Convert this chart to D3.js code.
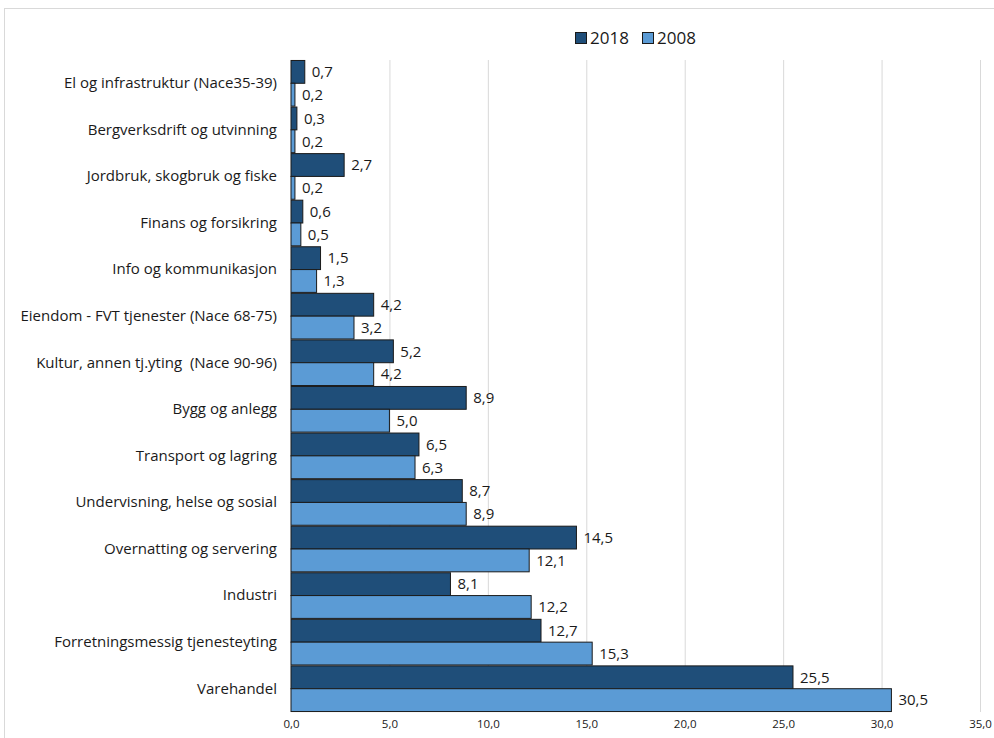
<!DOCTYPE html>
<html>
<head>
<meta charset="utf-8">
<script src="https://cdn.jsdelivr.net/npm/d3@7"></script>
<style>
  html, body { margin: 0; padding: 0; background: #fff; }
  svg { display: block; }
  text { font-family: "Open Sans", sans-serif; fill: #1a1a1a; white-space: pre; }
</style>
</head>
<body>
<svg id="chart" width="994" height="738"></svg>
<script>
// Sysselsatte etter næring, andel (%) 2018 og 2008
const categories = [
  "El og infrastruktur (Nace35-39)",
  "Bergverksdrift og utvinning",
  "Jordbruk, skogbruk og fiske",
  "Finans og forsikring",
  "Info og kommunikasjon",
  "Eiendom - FVT tjenester (Nace 68-75)",
  "Kultur, annen tj.yting  (Nace 90-96)",
  "Bygg og anlegg",
  "Transport og lagring",
  "Undervisning, helse og sosial",
  "Overnatting og servering",
  "Industri",
  "Forretningsmessig tjenesteyting",
  "Varehandel"
];
const series = ["2018", "2008"];
const values2018 = [0.7, 0.3, 2.7, 0.6, 1.5, 4.2, 5.2, 8.9, 6.5, 8.7, 14.5, 8.1, 12.7, 25.5];
const values2008 = [0.2, 0.2, 0.2, 0.5, 1.3, 3.2, 4.2, 5.0, 6.3, 8.9, 12.1, 12.2, 15.3, 30.5];
const xTicks = [0, 5, 10, 15, 20, 25, 30, 35];
const colors = { "2018": "#1f4e79", "2008": "#5b9bd5" };

const svg = d3.select("#chart");
const fmt = v => d3.format(".1f")(v).replace(".", ",");

// frame
svg.append("rect")
  .attr("x", 4.5).attr("y", 8.5).attr("width", 1000).attr("height", 740)
  .attr("fill", "none").attr("stroke", "#d9d9d9");

const x = d3.scaleLinear().domain([0, 35]).range([291, 980]);
const y = d3.scaleBand().domain(categories).range([60, 712]).paddingInner(0.02).paddingOuter(0.01);
const ySub = d3.scaleBand().domain(series).range([0, y.bandwidth()]);

// gridlines
svg.append("g").selectAll("line").data(xTicks).join("line")
  .attr("x1", d => x(d) + 0.5).attr("x2", d => x(d) + 0.5)
  .attr("y1", 60).attr("y2", 712)
  .attr("stroke", "#d9d9d9").attr("stroke-width", 1);

// axis tick labels
const xAxis = d3.axisBottom(x).tickValues(xTicks).tickFormat(fmt).tickSize(0).tickPadding(8);
const gx = svg.append("g").attr("transform", "translate(0,712)").call(xAxis);
gx.select(".domain").remove();
gx.selectAll("text").style("font-family", "'Open Sans', sans-serif").style("font-size", "11.5px")
  .attr("fill", "#333");

// category labels
const yAxis = d3.axisLeft(y).tickSize(0).tickPadding(14);
const gy = svg.append("g").attr("transform", `translate(${291},0)`).call(yAxis);
gy.select(".domain").remove();
gy.selectAll("text").style("font-family", "'Open Sans', sans-serif").style("font-size", "15px")
  .style("white-space", "pre").attr("fill", "#1a1a1a");

// bars
const rows = categories.map((c, i) => ({ cat: c, vals: [
  { s: "2018", v: values2018[i] }, { s: "2008", v: values2008[i] } ] }));

const grp = svg.append("g").selectAll("g").data(rows).join("g")
  .attr("transform", d => `translate(0,${y(d.cat)})`);

grp.selectAll("rect").data(d => d.vals).join("rect")
  .attr("x", x(0))
  .attr("y", d => ySub(d.s))
  .attr("width", d => x(d.v) - x(0))
  .attr("height", ySub.bandwidth())
  .attr("fill", d => colors[d.s])
  .attr("stroke", "#1a1a1a").attr("stroke-width", 1);

grp.selectAll("text.val").data(d => d.vals).join("text")
  .attr("class", "val")
  .attr("x", d => x(d.v) + 7)
  .attr("y", d => ySub(d.s) + ySub.bandwidth() / 2)
  .attr("dy", "0.35em")
  .style("font-size", "15px")
  .text(d => fmt(d.v));

// legend
const leg = svg.append("g").attr("transform", "translate(575,32)");
const items = leg.selectAll("g").data(series).join("g")
  .attr("transform", (d, i) => `translate(${i * 67},0)`);
items.append("rect").attr("x", 0.5).attr("y", 0.5).attr("width", 11).attr("height", 11)
  .attr("fill", d => colors[d]).attr("stroke", "#1a1a1a");
items.append("text").attr("x", 15).attr("y", 6).attr("dy", "0.36em")
  .style("font-size", "17px").text(d => d);
</script>
</body>
</html>
